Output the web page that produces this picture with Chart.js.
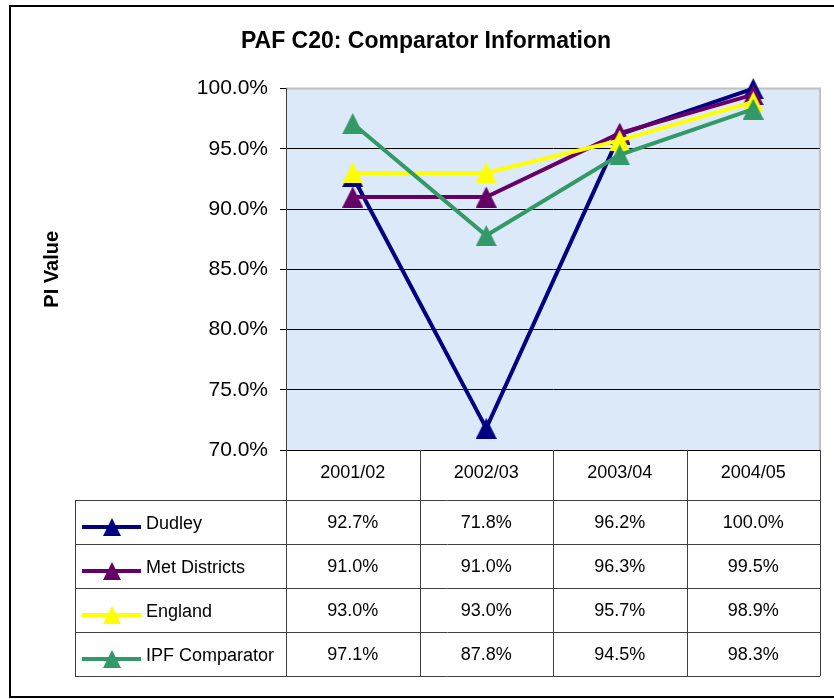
<!DOCTYPE html>
<html>
<head>
<meta charset="utf-8">
<title>PAF C20: Comparator Information</title>
<script src="https://cdn.jsdelivr.net/npm/chart.js@4/dist/chart.umd.min.js"></script>
<style>
  html, body { margin: 0; padding: 0; background: #fff; }
  #wrap { width: 834px; height: 699px; }
</style>
</head>
<body>
<div id="wrap"><canvas id="chart" width="834" height="699"></canvas></div>
<script>
// --- Data ---
const years = ['2001/02', '2002/03', '2003/04', '2004/05'];
const seriesNames = ['Dudley', 'Met Districts', 'England', 'IPF Comparator'];
const dudley = [92.7, 71.8, 96.2, 100.0];
const metDistricts = [91.0, 91.0, 96.3, 99.5];
const england = [93.0, 93.0, 95.7, 98.9];
const ipfComparator = [97.1, 87.8, 94.5, 98.3];
const seriesColors = ['#000080', '#660066', '#ffff00', '#339966'];
const yMin = 70, yMax = 100, yStep = 5;

const FONT = "'Liberation Sans', Arial, sans-serif";
const fmt = v => v.toFixed(1) + '%';

// triangle marker as a little canvas, centred on its box like Excel does
function makeTriangle(color, size) {
    const c = document.createElement('canvas');
    c.width = size; c.height = size;
    const g = c.getContext('2d');
    g.fillStyle = color;
    g.beginPath();
    g.moveTo(size / 2, 0);
    g.lineTo(size, size);
    g.lineTo(0, size);
    g.closePath();
    g.fill();
    return c;
}

const allSeries = [dudley, metDistricts, england, ipfComparator];
const markers = seriesColors.map(c => makeTriangle(c, 21));
const keyMarkers = seriesColors.map(c => makeTriangle(c, 18));

const datasets = allSeries.map((values, i) => ({
    label: seriesNames[i],
    data: values,
    borderColor: seriesColors[i],
    backgroundColor: seriesColors[i],
    borderWidth: 4,
    pointStyle: markers[i],
    pointRadius: 10,
    tension: 0,
    clip: false,
    order: allSeries.length - i   // later series sit on top, like the original
}));

/** plot area fill + frame + outer border **/
const backdrop = {
    id: 'backdrop',
    beforeDraw(chart) {
        const { ctx, chartArea: a } = chart;
        ctx.save();
        ctx.fillStyle = '#dce9f9';
        ctx.fillRect(a.left, a.top, a.right - a.left, a.bottom - a.top);
        ctx.strokeStyle = '#c0c0c0';
        ctx.lineWidth = 2;
        ctx.beginPath();
        ctx.moveTo(a.left, a.top);
        ctx.lineTo(a.right, a.top);
        ctx.lineTo(a.right, a.bottom);
        ctx.stroke();
        // outer chart border
        ctx.strokeStyle = '#000';
        ctx.lineWidth = 2;
        ctx.strokeRect(10, 6, 840, 691);
        ctx.restore();
    }
};

/** data table under the plot, columns follow the x scale **/
const dataTable = {
    id: 'dataTable',
    afterDraw(chart) {
        const { ctx, chartArea: a } = chart;
        const x = chart.scales.x;
        const half = (x.getPixelForValue(1) - x.getPixelForValue(0)) / 2;
        const edges = years.map((_, i) => x.getPixelForValue(i) - half);
        edges.push(x.getPixelForValue(years.length - 1) + half);

        const top = a.bottom;
        const headH = 50;
        const rowH = 44;
        const tableLeft = 75;
        const rowsTop = top + headH;
        const bottom = rowsTop + rowH * seriesNames.length;

        ctx.save();
        ctx.strokeStyle = '#404040';
        ctx.lineWidth = 1;
        ctx.beginPath();
        edges.forEach(ex => {
            ctx.moveTo(Math.round(ex) + 0.5, top);
            ctx.lineTo(Math.round(ex) + 0.5, bottom);
        });
        ctx.moveTo(tableLeft + 0.5, rowsTop);
        ctx.lineTo(tableLeft + 0.5, bottom);
        for (let r = 0; r <= seriesNames.length; r++) {
            const yy = Math.round(rowsTop + r * rowH) + 0.5;
            ctx.moveTo(tableLeft, yy);
            ctx.lineTo(edges[edges.length - 1], yy);
        }
        ctx.stroke();

        ctx.fillStyle = '#000';
        ctx.font = '18px ' + FONT;
        ctx.textBaseline = 'middle';
        ctx.textAlign = 'center';
        years.forEach((yr, i) => ctx.fillText(yr, x.getPixelForValue(i), top + headH / 2 - 2));

        allSeries.forEach((values, r) => {
            const cy = rowsTop + r * rowH + rowH / 2;
            // legend key
            const ky = cy + 5;
            ctx.strokeStyle = seriesColors[r];
            ctx.lineWidth = 4;
            ctx.beginPath();
            ctx.moveTo(82, ky);
            ctx.lineTo(141, ky);
            ctx.stroke();
            ctx.drawImage(keyMarkers[r], 112 - 9, ky - 9, 18, 18);
            ctx.fillStyle = '#000';
            ctx.textAlign = 'left';
            ctx.fillText(seriesNames[r], 146, cy + 2);
            ctx.textAlign = 'center';
            values.forEach((v, i) => ctx.fillText(fmt(v), x.getPixelForValue(i), cy + 1));
        });
        ctx.restore();
    }
};

new Chart(document.getElementById('chart'), {
    type: 'line',
    data: { labels: years, datasets },
    options: {
        responsive: false,
        animation: false,
        devicePixelRatio: 1,
        layout: { padding: { top: 0, left: 30, right: 12, bottom: 249 } },
        plugins: {
            legend: { display: false },
            tooltip: { enabled: false },
            title: {
                display: true,
                text: 'PAF C20: Comparator Information',
                color: '#000',
                font: { family: FONT, size: 23, weight: 'bold' },
                padding: { top: 28, bottom: 33 }
            }
        },
        scales: {
            x: { display: false, offset: true },
            y: {
                min: yMin,
                max: yMax,
                afterFit(scale) { scale.width = 256; },
                ticks: {
                    stepSize: yStep,
                    color: '#000',
                    padding: 12,
                    font: { family: FONT, size: 21 },
                    callback: v => fmt(v)
                },
                grid: {
                    color: c => c.tick && c.tick.value === yMax ? '#c0c0c0' : '#000',
                    tickColor: '#000',
                    tickLength: 6
                },
                border: { color: '#404040', width: 1 },
                title: {
                    display: true,
                    text: 'PI Value',
                    color: '#000',
                    font: { family: FONT, size: 20, weight: 'bold' },
                    padding: { top: 10, bottom: 0 }
                }
            }
        }
    },
    plugins: [backdrop, dataTable]
});
</script>
</body>
</html>
